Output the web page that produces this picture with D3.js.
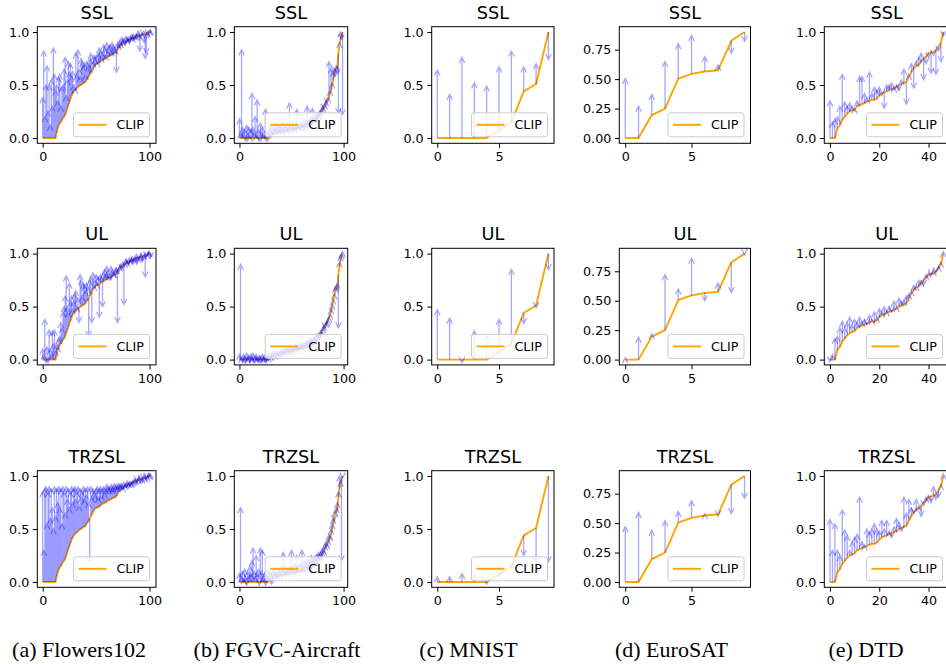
<!DOCTYPE html>
<html>
<head>
<meta charset="utf-8">
<script src="https://cdn.jsdelivr.net/npm/d3@7"></script>
<style>
  html, body { margin: 0; padding: 0; background: #fff; }
  svg { display: block; }
</style>
</head>
<body>
<svg id="chart" width="946" height="664"></svg>
<script>
/* ── Per-class accuracy: CLIP (sorted) vs. adapted models ─────────────────── */

const METHODS = ['SSL', 'UL', 'TRZSL'];

// Flowers102 (102 classes)
const flowersClip = [
  0,0,0,0,0,0,0,0,0,0,
  0,0,0,0.05,0.09,0.12,0.14,0.15,0.17,0.19,
  0.2,0.22,0.25,0.28,0.31,0.34,0.37,0.4,0.42,0.44,
  0.45,0.46,0.47,0.48,0.49,0.5,0.5,0.51,0.52,0.52,
  0.53,0.55,0.56,0.58,0.6,0.62,0.64,0.66,0.68,0.69,
  0.7,0.7,0.71,0.71,0.72,0.73,0.74,0.74,0.75,0.75,
  0.76,0.77,0.77,0.78,0.78,0.79,0.79,0.8,0.8,0.81,
  0.83,0.85,0.86,0.87,0.88,0.89,0.9,0.9,0.91,0.91,
  0.92,0.92,0.93,0.93,0.94,0.94,0.95,0.95,0.96,0.96,
  0.96,0.97,0.97,0.97,0.98,0.98,0.98,0.99,0.99,1,
  1,1
];
const flowersSSL = [
  0.38,0.82,0.2,0.5,0.68,0.25,0.5,0.12,0.55,0.3,
  0.85,0.6,0.45,0.5,0.35,0.57,0.6,0.3,0.48,0.5,
  0.65,0.76,0.4,0.55,0.72,0.62,0.7,0.58,0.63,0.5,
  0.47,0.8,0.6,0.83,0.65,0.58,0.75,0.72,0.68,0.7,
  0.6,0.72,0.66,0.7,0.75,0.8,0.62,0.72,0.78,0.75,
  0.78,0.72,0.8,0.85,0.82,0.76,0.8,0.88,0.85,0.78,
  0.9,0.82,0.86,0.88,0.82,0.9,0.87,0.85,0.84,0.62,
  0.9,0.88,0.92,0.9,0.95,0.92,0.94,0.88,0.96,0.93,
  0.95,0.9,0.96,0.97,0.95,0.98,0.93,0.97,0.96,1,
  0.98,0.82,0.96,0.99,0.97,0.9,0.75,0.8,1,0.95,
  1,1
];
const flowersUL = [
  0.1,0.05,0.38,-0.03,0.12,-0.03,0.28,0.1,0.05,0.27,
  0.15,0.28,0.08,0.15,0.12,0.2,0.22,0.35,0.3,0.45,
  0.5,0.6,0.79,0.5,0.45,0.72,0.55,0.6,0.48,0.55,
  0.62,0.65,0.5,0.58,0.35,0.8,0.75,0.6,0.72,0.7,
  0.65,0.72,0.68,0.22,0.75,0.78,0.35,0.82,0.7,0.75,
  0.8,0.72,0.78,0.4,0.8,0.78,0.5,0.82,0.85,0.8,
  0.88,0.84,0.8,0.75,0.88,0.85,0.82,0.8,0.86,0.86,
  0.35,0.82,0.88,0.9,0.85,0.92,0.52,0.9,0.95,0.93,
  0.9,0.96,0.94,0.95,0.97,0.92,0.96,0.98,0.9,0.97,
  0.95,0.98,0.97,0.92,0.96,0.99,0.78,0.97,1,1,
  1,0.96
];
const flowersTRZSL = [
  0.85,0.3,0.88,0.9,0.55,0.85,0.9,0.6,0.88,0.7,
  0.5,0.9,0.62,0.88,0.75,0.9,0.7,0.88,0.55,0.9,
  0.85,0.65,0.9,0.78,0.88,0.7,0.85,0.9,0.75,0.88,
  0.9,0.78,0.85,0.9,0.72,0.88,0.8,0.85,0.9,0.78,
  0.88,0.82,0.9,0.75,0.18,0.9,0.8,0.88,0.85,0.82,
  0.88,0.9,0.8,0.88,0.9,0.82,0.88,0.9,0.84,0.88,
  0.92,0.9,0.88,0.9,0.92,0.88,0.9,0.93,0.9,0.92,
  0.9,0.93,0.92,0.92,0.93,0.9,0.94,0.92,0.93,0.95,
  0.92,0.94,0.95,0.94,0.95,0.96,0.95,0.97,0.95,0.96,
  0.98,0.97,0.96,0.98,0.97,0.98,0.99,0.98,1,1,
  1,1
];

// FGVC-Aircraft (100 classes)
const fgvcClip = [
  0,0,0,0,0,0,0,0,0,0,
  0,0,0,0,0,0,0,0,0,0,
  0,0,0,0,0,0,0,0,0.01,0.02,
  0.02,0.03,0.03,0.04,0.04,0.04,0.05,0.05,0.05,0.06,
  0.06,0.06,0.06,0.07,0.07,0.07,0.07,0.08,0.08,0.08,
  0.08,0.08,0.08,0.09,0.09,0.09,0.09,0.1,0.1,0.1,
  0.1,0.1,0.11,0.11,0.11,0.12,0.12,0.12,0.13,0.13,
  0.13,0.14,0.15,0.16,0.17,0.18,0.2,0.21,0.23,0.25,
  0.27,0.29,0.31,0.33,0.35,0.37,0.39,0.42,0.45,0.5,
  0.55,0.6,0.65,0.66,0.68,0.8,0.88,0.93,0.97,1
];
const fgvcSSL = [
  0.18,0.05,0.83,0.1,0.05,0.08,-0.03,0.12,0.04,0.1,
  0.02,0.08,0.42,0.1,0.05,0.2,0.03,0.36,0.08,-0.03,
  0.14,0.05,0.1,0.02,0.06,0.27,0.05,-0.03,0.05,0.1,
  0.08,0.12,0.06,0.1,0.08,0.15,0.1,0.12,0.08,0.12,
  0.1,0.08,0.15,0.1,0.12,0.08,0.14,0.1,0.33,0.12,
  0.1,0.15,0.12,0.1,0.14,0.27,0.12,0.1,0.15,0.12,
  0.14,0.1,0.18,0.15,0.12,0.3,0.16,0.18,0.15,0.2,
  0.28,0.18,0.2,0.22,0.2,0.24,0.22,0.25,0.25,0.28,
  0.3,0.27,0.32,0.35,0.33,0.38,0.72,0.45,0.66,0.5,
  0.63,0.58,0.62,0.68,0.6,0.23,0.9,1,0.93,0.22
];
const fgvcUL = [
  0.05,0.9,0.02,-0.03,0.05,0.03,-0.03,0.06,0.02,0.04,
  -0.03,0.05,0.02,0.06,-0.03,0.03,0.05,0.02,-0.03,0.04,
  0.03,-0.03,0.05,0.02,0.04,-0.03,0.03,0.05,0.03,0.06,
  0.04,0.05,0.08,0.06,0.05,0.08,0.07,0.06,0.08,0.07,
  0.09,0.1,0.08,0.1,0.09,0.11,0.1,0.12,0.1,0.12,
  0.11,0.1,0.13,0.12,0.14,0.12,0.13,0.15,0.13,0.15,
  0.14,0.16,0.15,0.17,0.16,0.18,0.17,0.19,0.18,0.2,
  0.19,0.22,0.21,0.2,0.24,0.22,0.25,0.24,0.27,0.26,
  0.3,0.32,0.3,0.35,0.36,0.38,0.4,0.43,0.48,0.52,
  0.55,0.62,0.68,0.7,0.72,0.3,0.92,0.98,1,1
];
const fgvcTRZSL = [
  0.08,0.7,0.05,0.1,0.03,0.12,0.05,-0.03,0.1,0.06,
  0.15,0.08,0.2,0.32,0.1,0.05,0.25,0.08,0.12,-0.03,
  0.32,0.1,0.3,0.05,0.08,-0.03,0.12,0.06,0.05,0.1,
  0.08,-0.02,0.1,0.12,0.08,0.1,0.05,0.12,0.1,0.08,
  0.15,0.12,0.28,0.1,0.15,0.12,0.1,0.14,0.12,0.15,
  0.3,0.14,0.12,0.18,0.15,0.25,0.12,0.15,0.18,0.15,
  0.3,0.14,0.2,0.18,0.16,0.22,0.2,0.18,0.2,0.25,
  0.22,0.2,0.24,0.22,0.26,0.25,0.28,0.25,0.28,0.3,
  0.32,0.3,0.35,0.38,0.36,0.4,0.45,0.42,0.5,0.55,
  0.6,0.58,0.65,0.7,0.75,0.85,1,0.95,0.2,0.98
];

// MNIST (10 classes)
const mnistClip  = [0, 0, 0, 0, 0, 0.07, 0.15, 0.44, 0.51, 1];
const mnistSSL   = [0.64, 0.41, 0.76, 0.52, 0.49, 0.67, 0.82, 0.67, 0.7, 0.74];
const mnistUL    = [0.47, 0.39, -0.03, 0.27, 0.22, 0.38, 0.85, 0.34, 0.49, 0.85];
const mnistTRZSL = [0.05, 0.05, 0.08, 0.07, -0.02, 0.05, 0.13, 0.25, 0.19, 0.19];

// EuroSAT (10 classes)
const euroClip  = [0, 0, 0.195, 0.25, 0.505, 0.545, 0.565, 0.575, 0.825, 0.9];
const euroSSL   = [0.505, 0.27, 0.37, 0.65, 0.8, 0.87, 0.69, 0.62, 0.72, 0.82];
const euroUL    = [0, 0.19, 0.22, 0.72, 0.6, 0.86, 0.5, 0.65, 0.57, 0.89];
const euroTRZSL = [0.47, 0.59, 0.44, 0.52, 0.6, 0.69, 0.58, 0.56, 0.58, 0.71];

// DTD (47 classes)
const dtdClip = [
  0,0,0,0.09,0.12,0.17,0.2,0.23,0.25,0.26,
  0.27,0.3,0.31,0.32,0.33,0.34,0.35,0.36,0.36,0.37,
  0.4,0.42,0.43,0.44,0.45,0.46,0.47,0.48,0.5,0.51,
  0.52,0.53,0.58,0.62,0.66,0.68,0.69,0.72,0.75,0.77,
  0.8,0.81,0.81,0.83,0.86,0.9,1
];
const dtdSSL = [
  0.35,0.15,0.18,0.2,0.3,0.6,0.34,0.3,0.33,0.3,
  0.28,0.35,0.58,0.58,0.42,0.38,0.62,0.42,0.48,0.45,
  0.48,0.4,0.28,0.5,0.5,0.52,0.48,0.48,0.45,0.55,
  0.65,0.32,0.6,0.7,0.47,0.72,0.76,0.8,0.55,0.7,
  0.76,0.61,0.78,0.6,0.82,0.72,0.96
];
const dtdUL = [
  -0.02,0.05,0.2,0.22,0.3,0.36,0.3,0.35,0.4,0.33,
  0.38,0.35,0.4,0.36,0.38,0.33,0.42,0.38,0.45,0.4,
  0.48,0.45,0.5,0.46,0.5,0.45,0.55,0.5,0.58,0.55,
  0.56,0.6,0.62,0.65,0.7,0.68,0.75,0.72,0.7,0.8,
  0.82,0.8,0.84,0.82,0.88,0.9,1
];
const dtdTRZSL = [
  0.59,0.3,0.55,0.3,0.25,0.68,0.49,0.44,0.3,0.38,
  0.42,0.45,0.8,0.38,0.33,0.5,0.47,0.5,0.55,0.5,
  0.48,0.58,0.5,0.58,0.48,0.42,0.52,0.6,0.56,0.48,
  0.8,0.65,0.78,0.7,0.65,0.78,0.72,0.62,0.72,0.8,
  0.8,0.75,0.9,0.78,0.8,0.92,1
];

const CAPTIONS = ['(a) Flowers102', '(b) FGVC-Aircraft', '(c) MNIST', '(d) EuroSAT', '(e) DTD'];
const X_TICKS = [[0, 100], [0, 100], [0, 5], [0, 5], [0, 20, 40]];
const Y_TICKS = [[0, 0.5, 1], [0, 0.5, 1], [0, 0.5, 1], [0, 0.25, 0.5, 0.75], [0, 0.5, 1]];
const Y_FORMAT = ['.1f', '.1f', '.1f', '.2f', '.1f'];

const DATASETS = [
  { clip: flowersClip, runs: [flowersSSL, flowersUL, flowersTRZSL] },
  { clip: fgvcClip,    runs: [fgvcSSL, fgvcUL, fgvcTRZSL] },
  { clip: mnistClip,   runs: [mnistSSL, mnistUL, mnistTRZSL] },
  { clip: euroClip,    runs: [euroSSL, euroUL, euroTRZSL] },
  { clip: dtdClip,     runs: [dtdSSL, dtdUL, dtdTRZSL] },
];

/* ── Layout ──────────────────────────────────────────────────────────────── */
const COL_LEFT  = [37.3, 234.3, 431.7, 619.3, 824.3];
const COL_RIGHT = [156, 347.7, 554, 750.5, 949];
const CAPTION_X = [79, 277, 468.5, 671.5, 866];
const ROW_TOP   = [26.7, 248.3, 470.7];
const PLOT_H    = 116.6;

const FONT = 'DejaVu Sans';
const TICK_FS = 12.7;
const TITLE_FS = 17.7;
const ORANGE = '#ffa500';
const HEAD_L = 5.5, HEAD_W = 2.8;

const pad = ([a, b]) => [a - 0.05 * (b - a), b + 0.05 * (b - a)];

const svg = d3.select('#chart');

function styleAxis(sel) {
  sel.select('.domain').remove();
  sel.selectAll('line').attr('stroke', '#000').attr('stroke-width', 1);
  sel.selectAll('text')
    .attr('fill', '#000')
    .attr('font-size', TICK_FS + 'px')
    .attr('font-family', FONT);
}

function arrowPath(x, y0, y1) {
  // pixel direction: +1 = downwards; zero-length arrows point up
  const dir = y1 > y0 ? 1 : -1;
  if (y1 === y0) y1 -= 2;
  return `M${x},${y0}L${x},${y1}` +
    `M${x - HEAD_W},${y1 - dir * HEAD_L}L${x},${y1}L${x + HEAD_W},${y1 - dir * HEAD_L}`;
}

DATASETS.forEach((ds, ci) => {
  const left = COL_LEFT[ci], right = COL_RIGHT[ci];
  const x = d3.scaleLinear()
    .domain(pad([0, ds.clip.length - 1]))
    .range([left, right]);

  METHODS.forEach((method, ri) => {
    const top = ROW_TOP[ri], bottom = top + PLOT_H;
    const y = d3.scaleLinear()
      .domain(pad(d3.extent(ds.clip)))
      .range([bottom, top]);
    const g = svg.append('g').attr('class', 'panel');

    // CLIP line
    g.append('path')
      .datum(ds.clip)
      .attr('d', d3.line().x((d, i) => x(i)).y(d => y(d)))
      .attr('fill', 'none')
      .attr('stroke', ORANGE)
      .attr('stroke-width', 1.9)
      .attr('stroke-linejoin', 'round');

    // spines
    g.append('rect')
      .attr('x', left).attr('y', top)
      .attr('width', right - left).attr('height', PLOT_H)
      .attr('fill', 'none')
      .attr('stroke', '#000')
      .attr('stroke-width', 1);

    // axes
    g.append('g')
      .attr('transform', `translate(0,${bottom})`)
      .call(d3.axisBottom(x).tickValues(X_TICKS[ci]).tickSize(4.4).tickPadding(4.4).tickFormat(d3.format('d')))
      .call(styleAxis);
    g.append('g')
      .attr('transform', `translate(${left},0)`)
      .call(d3.axisLeft(y).tickValues(Y_TICKS[ci]).tickSize(4.4).tickPadding(3.6).tickFormat(d3.format(Y_FORMAT[ci])))
      .call(styleAxis);

    // arrows CLIP -> method
    g.append('g')
      .selectAll('path')
      .data(ds.runs[ri])
      .join('path')
      .attr('d', (d, i) => arrowPath(x(i), y(ds.clip[i]), y(d)))
      .attr('fill', 'none')
      .attr('stroke', '#0000ff')
      .attr('stroke-opacity', 0.35)
      .attr('stroke-width', 1.3);

    // title
    g.append('text')
      .attr('x', (left + right) / 2)
      .attr('y', top - 8)
      .attr('text-anchor', 'middle')
      .attr('font-family', FONT)
      .attr('font-size', TITLE_FS + 'px')
      .text(method);

    // legend
    const lg = g.append('g')
      .attr('transform', `translate(${right - 6.5 - 76},${bottom - 6.5 - 24})`);
    lg.append('rect')
      .attr('width', 76).attr('height', 24).attr('rx', 2.5)
      .attr('fill', '#fff').attr('fill-opacity', 0.8)
      .attr('stroke', '#cccccc').attr('stroke-width', 1);
    lg.append('line')
      .attr('x1', 5).attr('x2', 33).attr('y1', 12).attr('y2', 12)
      .attr('stroke', ORANGE).attr('stroke-width', 1.9);
    lg.append('text')
      .attr('x', 43).attr('y', 12).attr('dy', '0.35em')
      .attr('font-family', FONT)
      .attr('font-size', TICK_FS + 'px')
      .text('CLIP');
  });

  svg.append('text')
    .attr('x', CAPTION_X[ci])
    .attr('y', 657)
    .attr('text-anchor', 'middle')
    .attr('font-family', 'Liberation Serif')
    .attr('font-size', '22px')
    .text(CAPTIONS[ci]);
});
</script>
</body>
</html>
